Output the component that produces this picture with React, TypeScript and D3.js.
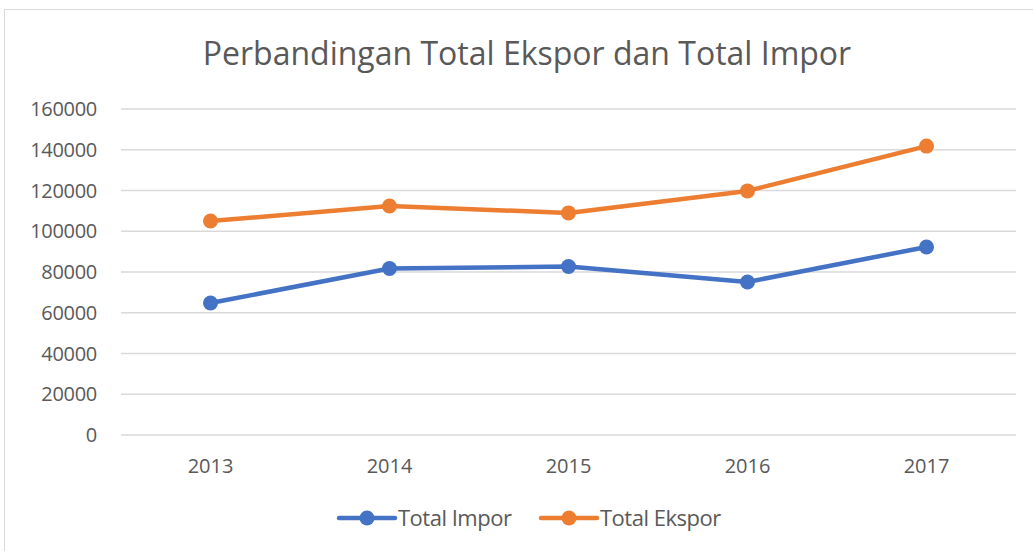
import React from "react";
import * as d3 from "d3";

const years = ["2013", "2014", "2015", "2016", "2017"];
const totalImpor = [64800, 81700, 82700, 75100, 92300];
const totalEkspor = [105000, 112400, 109000, 119800, 141800];
const yTicks = [0, 20000, 40000, 60000, 80000, 100000, 120000, 140000, 160000];
const seriesNames = ["Total Impor", "Total Ekspor"];
const seriesColors = ["#4472C4", "#ED7D31"];

const W = 1033;
const H = 551;
const FONT = "'Open Sans', 'Noto Sans', sans-serif";

export default function App() {
  const x = d3.scaleBand<string>().domain(years).range([121, 1016]);
  const y = d3.scaleLinear().domain([0, 160000]).range([435, 109]);
  const cx = (d: string) => (x(d) as number) + x.bandwidth() / 2;
  const line = d3
    .line<number>()
    .x((_, i) => cx(years[i]))
    .y((v) => y(v));
  const series = [totalImpor, totalEkspor];
  const legendX = [339, 541];

  return (
    <svg
      width={W}
      height={H}
      style={{ position: "absolute", left: 0, top: 0, background: "#fff" }}
      fontFamily={FONT}
    >
      <rect x={4.5} y={9.5} width={1040} height={560} fill="#fff" stroke="#d9d9d9" strokeWidth={1} />
      <text x={527} y={65} textAnchor="middle" fontSize={32} fill="#595959">
        Perbandingan Total Ekspor dan Total Impor
      </text>
      {yTicks.map((t) => (
        <g key={t}>
          <line x1={121} x2={1016} y1={y(t)} y2={y(t)} stroke="#d9d9d9" strokeWidth={1.5} />
          <text x={97} y={y(t) + 7} textAnchor="end" fontSize={20} letterSpacing={-0.3} fill="#595959">
            {t}
          </text>
        </g>
      ))}
      {years.map((yr) => (
        <text key={yr} x={cx(yr)} y={473} textAnchor="middle" fontSize={20} fill="#595959">
          {yr}
        </text>
      ))}
      {series.map((s, si) => (
        <g key={si}>
          <path d={line(s) || ""} fill="none" stroke={seriesColors[si]} strokeWidth={4.5} strokeLinejoin="round" />
          {s.map((v, i) => (
            <circle key={i} cx={cx(years[i])} cy={y(v)} r={7.5} fill={seriesColors[si]} />
          ))}
        </g>
      ))}
      {seriesNames.map((n, i) => (
        <g key={n}>
          <line
            x1={legendX[i]}
            x2={legendX[i] + 56}
            y1={518}
            y2={518}
            stroke={seriesColors[i]}
            strokeWidth={4.5}
            strokeLinecap="round"
          />
          <circle cx={legendX[i] + 28} cy={518} r={7.5} fill={seriesColors[i]} />
          <text x={legendX[i] + 59} y={526} fontSize={22} letterSpacing={-0.5} fill="#595959">
            {n}
          </text>
        </g>
      ))}
    </svg>
  );
}
